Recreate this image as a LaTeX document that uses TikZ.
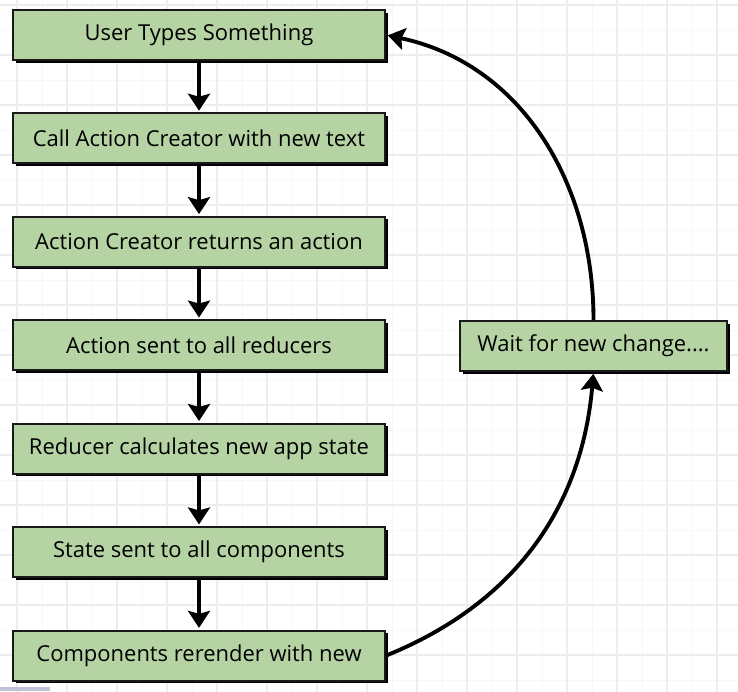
\documentclass[tikz,border=0pt]{standalone}
\usepackage{fontspec}
\setmainfont{Open Sans}
\usepackage{xcolor}
\usetikzlibrary{arrows, arrows.meta, positioning, shadows}

\definecolor{boxgreen}{HTML}{B6D3A4}
\definecolor{gridmajor}{HTML}{EDEDEF}
\definecolor{gridminor}{HTML}{F7F7F8}

\begin{document}
\begin{tikzpicture}[->,
			>={Stealth[length=3.4mm, width=4.4mm, inset=0.6mm]},
			shorten >=1pt,
			auto,
			node distance=1.03cm,
			stepbox/.style={draw=black!90, line width=1.1pt, fill=boxgreen,
				minimum width=7.44cm, minimum height=1cm,
				font=\fontsize{12.5}{14}\selectfont,
				drop shadow={shadow xshift=0.05cm, shadow yshift=-0.05cm, fill=black, opacity=1}},
			link/.style={->, line width=2.2pt, black}]

			% background grid
			\fill[white] (0,0) rectangle (14.76,-13.82);
			\useasboundingbox (0,0) rectangle (14.76,-13.82);
			\draw[-, gridminor, line width=0.5pt, xshift=0.34cm, yshift=-0.1cm] (-1,1) grid[step=0.5] (15,-14);
			\draw[-, gridmajor, line width=0.8pt, xshift=0.34cm, yshift=-0.1cm] (-1,1) grid[step=1] (15,-14);
			\fill[blue!20!gray!40] (0,-13.74) rectangle (1,-13.82);

			% left column
			\node[stepbox] (user) at (3.98,-0.7) {User Types Something};
			\node[stepbox] (call) [below=of user] {Call Action Creator with new text};
			\node[stepbox] (creator) [below=of call] {Action Creator returns an action};
			\node[stepbox] (sent) [below=of creator] {Action sent to all reducers};
			\node[stepbox] (reducer) [below=of sent] {Reducer calculates new app state};
			\node[stepbox] (state) [below=of reducer] {State sent to all components};
			\node[stepbox] (comp) [below=of state] {Components rerender with new};

			% right box
			\node[stepbox, minimum width=5.34cm] (wait) at (11.87,-6.92) {Wait for new change....};

			\draw[link] (user) -- (call);
			\draw[link] (call) -- (creator);
			\draw[link] (creator) -- (sent);
			\draw[link] (sent) -- (reducer);
			\draw[link] (reducer) -- (state);
			\draw[link] (state) -- (comp);
			\draw[link] (comp.east) to[out=22, in=-95] (wait.south);
			\draw[link] (wait.north) to[out=90, in=-12] (user.east);
		\end{tikzpicture}
\end{document}
